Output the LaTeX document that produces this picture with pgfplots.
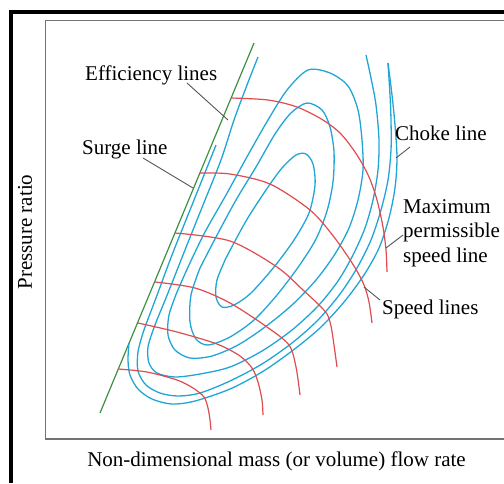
\documentclass[border=0pt]{standalone}
\usepackage{fontspec}
\setmainfont{Liberation Serif}
\usepackage{pgfplots}
\pgfplotsset{compat=1.18}
\definecolor{effblue}{RGB}{32,166,214}
\definecolor{spdred}{RGB}{222,76,80}
\definecolor{surgegreen}{RGB}{60,145,65}
\definecolor{ptr}{RGB}{85,85,85}
\definecolor{boxgray}{RGB}{115,115,115}
\tikzset{lab/.style={font=\fontsize{21}{24}\selectfont, inner sep=0pt}}
\begin{document}
\begin{tikzpicture}
\begin{axis}[x=1pt, y=1pt, y dir=reverse, xmin=45, xmax=504, ymin=20, ymax=439,
  hide axis, clip=false,
  every axis plot/.append style={smooth, line width=1.3pt}]
% outer frame and plot box
\draw[black, line width=4pt] (axis cs:11.5,483) -- (axis cs:11.5,12) -- (axis cs:504,12);
\draw[boxgray, line width=1.5pt] (axis cs:504,20.5) -- (axis cs:45.5,20.5) -- (axis cs:45.5,439) -- (axis cs:504,439);
% surge line
\addplot[surgegreen, line width=1.2pt] coordinates {(100,413) (254,43)};
% efficiency lines (outer, open)
\addplot[effblue] coordinates {(129,343) (128,360) (130,375) (138,389) (152,399) (172,404) (195,401) (230,389) (262,372) (292,351) (320,328) (344,302) (364,275) (379,248) (389,218) (395,188) (397,158) (395,125) (392,95) (388,63)};
\addplot[effblue] coordinates {(216,145) (208,165) (190,210) (172,255) (156,298) (144,330) (138,352) (138,371) (146,385) (160,393) (178,396) (200,393) (230,381) (262,364) (292,343) (318,320) (340,294) (357,268) (371,240) (381,210) (388,180) (391,150) (391,120) (390,95) (388,63)};
\addplot[effblue] coordinates {(258,57) (247,85) (234,120) (221,160) (203,205) (185,250) (168,293) (155,325) (148,347) (149,363) (157,373) (175,377) (200,374) (230,367) (262,351) (292,330) (318,306) (338,281) (353,255) (365,228) (373,200) (378,170) (379,140) (376,105) (371,78) (366,55)};
% efficiency islands (closed)
\addplot[effblue] coordinates {(177,292) (189,265) (205,232) (226,195) (248,155) (268,120) (287,90) (308,70) (330,73) (348,86) (358,110) (362,140) (363,170) (358,200) (349,228) (335,254) (316,280) (292,305) (265,327) (238,345) (212,356) (190,358) (175,350) (168,335) (169,315) (177,292)};
\addplot[effblue] coordinates {(200,268) (216,237) (236,200) (256,167) (275,134) (291,113) (307,103) (322,110) (330,127) (334,152) (333,182) (327,211) (316,239) (299,266) (277,295) (254,320) (230,337) (208,345) (196,339) (190,322) (191,295) (200,268)};
\addplot[effblue] coordinates {(226,258) (246,221) (266,190) (282,168) (296,155) (306,154) (313,164) (315,185) (309,213) (294,240) (274,267) (251,293) (234,305) (222,307) (216,297) (217,280) (226,258)};
% speed lines
\addplot[spdred, line width=1.2pt] coordinates {(231,98) (268,100) (297,107) (323,120) (341,134) (357,155) (369,177) (377,200) (383,227) (386,250) (387,272)};
\addplot[spdred, line width=1.2pt] coordinates {(200,173) (230,174) (270,184) (310,210) (334,237) (354,266) (364,285) (369,302) (372,323)};
\addplot[spdred, line width=1.2pt] coordinates {(175,233) (230,241) (277,267) (303,290) (318,304) (327,314) (331,326) (334,345) (337,367)};
\addplot[spdred, line width=1.2pt] coordinates {(155,282) (195,288) (230,303) (267,327) (289,345) (296,367) (300,395)};
\addplot[spdred, line width=1.2pt] coordinates {(138,323) (177,332) (217,344) (240,356) (252,368) (258,382) (262,400) (263,415)};
\addplot[spdred, line width=1.2pt] coordinates {(118,369) (147,372) (177,380) (193,388) (204,397) (208,408) (210,420) (211,430)};
% pointers
\draw[ptr, line width=0.9pt] (axis cs:187,83) -- (axis cs:228,120);
\draw[ptr, line width=0.9pt] (axis cs:143,158) -- (axis cs:193,188);
\draw[ptr, line width=0.9pt] (axis cs:410,147) -- (axis cs:396,158);
\draw[ptr, line width=0.9pt] (axis cs:403,235) -- (axis cs:386,248);
\draw[ptr, line width=0.9pt] (axis cs:380,300) -- (axis cs:364,287);
% labels
\node[lab, anchor=base west] at (axis cs:85,80) {Efficiency lines};
\node[lab, anchor=base west] at (axis cs:82,154) {Surge line};
\node[lab, anchor=base west] at (axis cs:395,140) {Choke line};
\node[lab, anchor=base west] at (axis cs:403,213) {Maximum};
\node[lab, anchor=base west] at (axis cs:403,237.5) {permissible};
\node[lab, anchor=base west] at (axis cs:403,262) {speed line};
\node[lab, anchor=base west] at (axis cs:382,314) {Speed lines};
\node[lab, anchor=center] at (axis cs:276.5,461) {Non-dimensional mass (or volume) flow rate};
\node[lab, anchor=center, rotate=90] at (axis cs:25,232) {Pressure ratio};
\coordinate (BL) at (axis cs:0,483);
\coordinate (TR) at (axis cs:504,0);
\end{axis}
\pgfresetboundingbox
\path[use as bounding box] (BL) rectangle (TR);
\end{tikzpicture}
\end{document}
